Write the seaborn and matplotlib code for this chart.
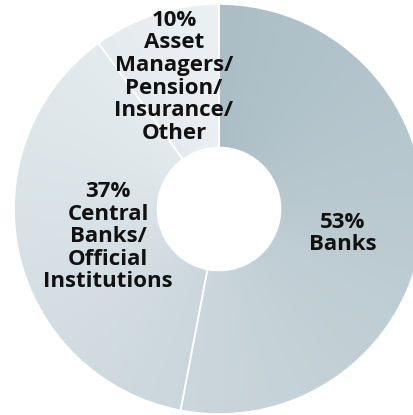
import numpy as np
import matplotlib
matplotlib.use("Agg")
import matplotlib.pyplot as plt
import seaborn as sns

# holders by type
segments = ["Banks", "Central\nBanks/\nOfficial\nInstitutions",
            "Asset\nManagers/\nPension/\nInsurance/\nOther"]
shares = [53, 37, 10]

sns.set_theme(style="white")
plt.rcParams["font.family"] = ["Open Sans", "DejaVu Sans"]

fig = plt.figure(figsize=(4.14, 4.15), dpi=100)
ax = fig.add_axes([0, 0, 1, 1])

cmap = sns.blend_palette(["#abbec6", "#c9d5db", "#ebf0f3"], as_cmap=True)
wedges, _ = ax.pie(shares, startangle=90, counterclock=False,
                   colors=["none"] * len(shares),
                   wedgeprops=dict(width=0.70, edgecolor="white", linewidth=1.2))

# angular gradient, clockwise from 12 o'clock
yy, xx = np.mgrid[1.05:-1.05:600j, -1.05:1.05:600j]
t = ((90 - np.degrees(np.arctan2(yy, xx))) % 360) / 360
for w in wedges:
    im = ax.imshow(t, extent=[-1.05, 1.05, -1.05, 1.05], cmap=cmap,
                   vmin=0, vmax=1, zorder=0, interpolation="bilinear")
    im.set_clip_path(w)
    w.set_zorder(2)

# labels
label_pos = [(0.605, -0.12), (-0.54, -0.135), (-0.22, 0.645)]
for seg, val, (x, y) in zip(segments, shares, label_pos):
    ax.text(x, y, f"{val}%\n{seg}", ha="center", va="center",
            fontsize=16, fontweight="bold", color="#111111",
            linespacing=1.1, zorder=3)

ax.set_xlim(-219 / 205, 195 / 205)
ax.set_ylim(-206 / 205, 209 / 205)
ax.set_aspect("auto")
ax.axis("off")

fig.savefig("out.png", dpi=100)
